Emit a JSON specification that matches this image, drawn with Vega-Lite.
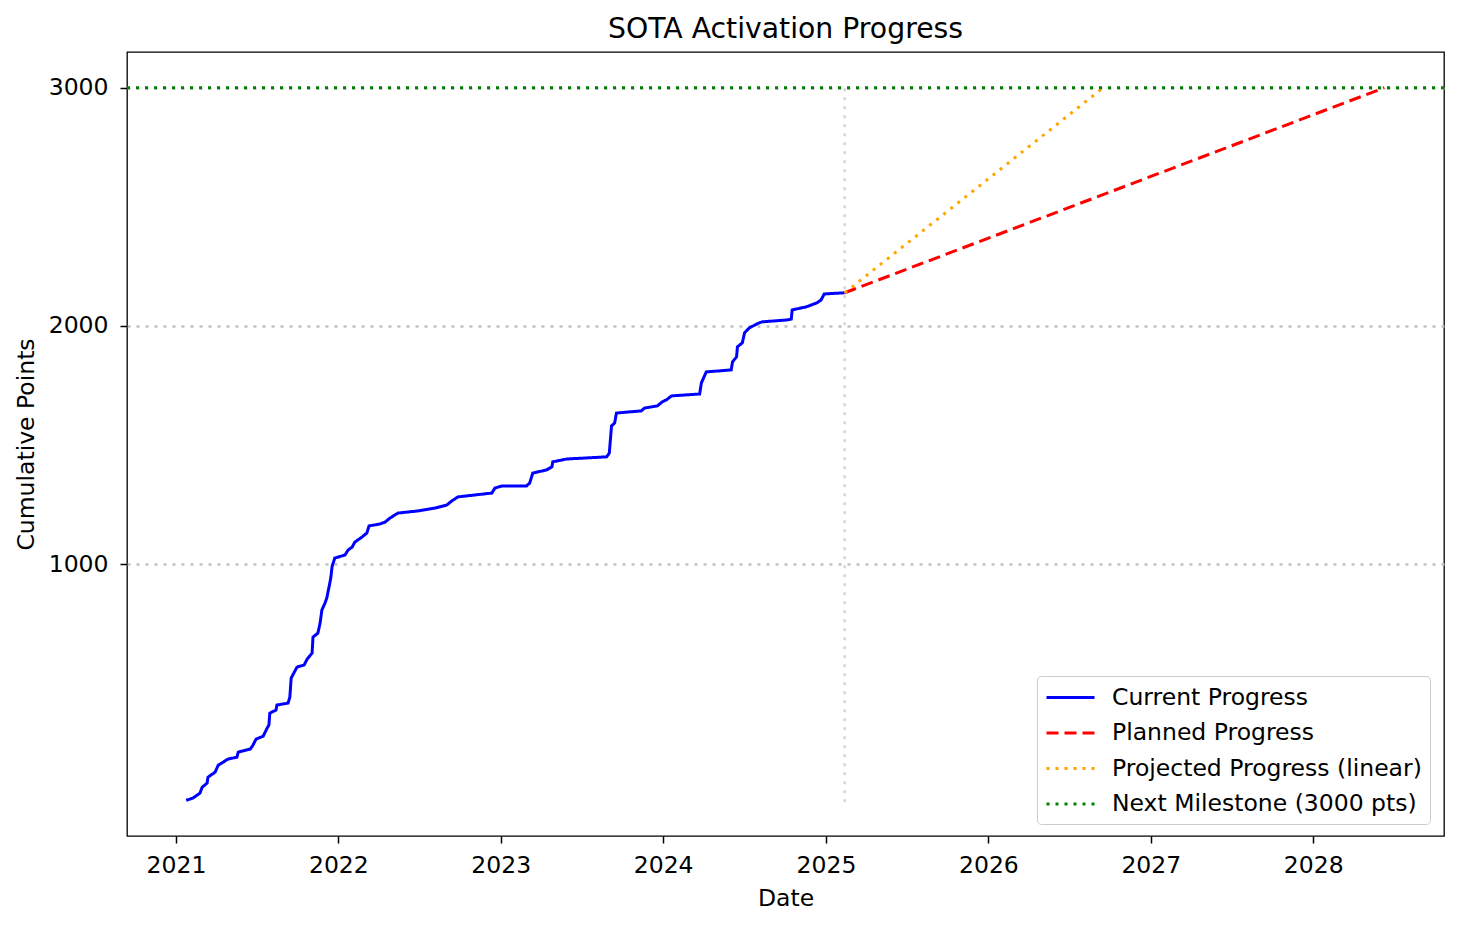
{
  "$schema": "https://vega.github.io/schema/vega-lite/v6.json",
  "width": 1317,
  "height": 784,
  "autosize": {"type": "none"},
  "padding": {"left": 127, "top": 52, "right": 16, "bottom": 92},
  "background": "white",
  "title": {"text": "SOTA Activation Progress", "fontSize": 28.3, "font": "DejaVu Sans", "fontWeight": "normal", "color": "black", "offset": 8},
  "datasets": {
    "lines": [
      {"date": "2021-01-24", "value": 8, "series": "Current Progress"},
      {"date": "2021-02-08", "value": 17, "series": "Current Progress"},
      {"date": "2021-02-24", "value": 38, "series": "Current Progress"},
      {"date": "2021-03-01", "value": 63, "series": "Current Progress"},
      {"date": "2021-03-12", "value": 80, "series": "Current Progress"},
      {"date": "2021-03-14", "value": 105, "series": "Current Progress"},
      {"date": "2021-03-30", "value": 126, "series": "Current Progress"},
      {"date": "2021-04-06", "value": 155, "series": "Current Progress"},
      {"date": "2021-04-28", "value": 181, "series": "Current Progress"},
      {"date": "2021-05-18", "value": 189, "series": "Current Progress"},
      {"date": "2021-05-21", "value": 210, "series": "Current Progress"},
      {"date": "2021-06-17", "value": 223, "series": "Current Progress"},
      {"date": "2021-06-23", "value": 239, "series": "Current Progress"},
      {"date": "2021-06-30", "value": 265, "series": "Current Progress"},
      {"date": "2021-07-16", "value": 277, "series": "Current Progress"},
      {"date": "2021-07-25", "value": 311, "series": "Current Progress"},
      {"date": "2021-07-29", "value": 324, "series": "Current Progress"},
      {"date": "2021-07-31", "value": 374, "series": "Current Progress"},
      {"date": "2021-08-14", "value": 387, "series": "Current Progress"},
      {"date": "2021-08-16", "value": 408, "series": "Current Progress"},
      {"date": "2021-09-10", "value": 416, "series": "Current Progress"},
      {"date": "2021-09-14", "value": 441, "series": "Current Progress"},
      {"date": "2021-09-17", "value": 521, "series": "Current Progress"},
      {"date": "2021-09-30", "value": 567, "series": "Current Progress"},
      {"date": "2021-10-16", "value": 576, "series": "Current Progress"},
      {"date": "2021-10-23", "value": 601, "series": "Current Progress"},
      {"date": "2021-11-03", "value": 626, "series": "Current Progress"},
      {"date": "2021-11-05", "value": 693, "series": "Current Progress"},
      {"date": "2021-11-16", "value": 710, "series": "Current Progress"},
      {"date": "2021-11-21", "value": 752, "series": "Current Progress"},
      {"date": "2021-11-25", "value": 807, "series": "Current Progress"},
      {"date": "2021-12-02", "value": 836, "series": "Current Progress"},
      {"date": "2021-12-06", "value": 857, "series": "Current Progress"},
      {"date": "2021-12-11", "value": 903, "series": "Current Progress"},
      {"date": "2021-12-15", "value": 941, "series": "Current Progress"},
      {"date": "2021-12-18", "value": 990, "series": "Current Progress"},
      {"date": "2021-12-24", "value": 1025, "series": "Current Progress"},
      {"date": "2022-01-16", "value": 1038, "series": "Current Progress"},
      {"date": "2022-01-23", "value": 1059, "series": "Current Progress"},
      {"date": "2022-02-01", "value": 1071, "series": "Current Progress"},
      {"date": "2022-02-07", "value": 1092, "series": "Current Progress"},
      {"date": "2022-02-23", "value": 1113, "series": "Current Progress"},
      {"date": "2022-03-06", "value": 1130, "series": "Current Progress"},
      {"date": "2022-03-11", "value": 1160, "series": "Current Progress"},
      {"date": "2022-04-04", "value": 1168, "series": "Current Progress"},
      {"date": "2022-04-16", "value": 1176, "series": "Current Progress"},
      {"date": "2022-04-27", "value": 1193, "series": "Current Progress"},
      {"date": "2022-05-15", "value": 1214, "series": "Current Progress"},
      {"date": "2022-06-29", "value": 1223, "series": "Current Progress"},
      {"date": "2022-08-06", "value": 1235, "series": "Current Progress"},
      {"date": "2022-09-02", "value": 1248, "series": "Current Progress"},
      {"date": "2022-09-13", "value": 1265, "series": "Current Progress"},
      {"date": "2022-09-27", "value": 1282, "series": "Current Progress"},
      {"date": "2022-11-04", "value": 1290, "series": "Current Progress"},
      {"date": "2022-12-12", "value": 1298, "series": "Current Progress"},
      {"date": "2022-12-19", "value": 1319, "series": "Current Progress"},
      {"date": "2023-01-04", "value": 1328, "series": "Current Progress"},
      {"date": "2023-02-28", "value": 1328, "series": "Current Progress"},
      {"date": "2023-03-07", "value": 1340, "series": "Current Progress"},
      {"date": "2023-03-14", "value": 1382, "series": "Current Progress"},
      {"date": "2023-04-14", "value": 1395, "series": "Current Progress"},
      {"date": "2023-04-26", "value": 1408, "series": "Current Progress"},
      {"date": "2023-04-28", "value": 1429, "series": "Current Progress"},
      {"date": "2023-05-29", "value": 1441, "series": "Current Progress"},
      {"date": "2023-08-27", "value": 1450, "series": "Current Progress"},
      {"date": "2023-09-02", "value": 1466, "series": "Current Progress"},
      {"date": "2023-09-07", "value": 1580, "series": "Current Progress"},
      {"date": "2023-09-14", "value": 1592, "series": "Current Progress"},
      {"date": "2023-09-18", "value": 1634, "series": "Current Progress"},
      {"date": "2023-11-13", "value": 1643, "series": "Current Progress"},
      {"date": "2023-11-20", "value": 1655, "series": "Current Progress"},
      {"date": "2023-12-19", "value": 1664, "series": "Current Progress"},
      {"date": "2023-12-30", "value": 1681, "series": "Current Progress"},
      {"date": "2024-01-08", "value": 1689, "series": "Current Progress"},
      {"date": "2024-01-20", "value": 1706, "series": "Current Progress"},
      {"date": "2024-03-23", "value": 1714, "series": "Current Progress"},
      {"date": "2024-03-27", "value": 1761, "series": "Current Progress"},
      {"date": "2024-04-07", "value": 1807, "series": "Current Progress"},
      {"date": "2024-05-06", "value": 1811, "series": "Current Progress"},
      {"date": "2024-06-02", "value": 1815, "series": "Current Progress"},
      {"date": "2024-06-05", "value": 1849, "series": "Current Progress"},
      {"date": "2024-06-14", "value": 1870, "series": "Current Progress"},
      {"date": "2024-06-16", "value": 1912, "series": "Current Progress"},
      {"date": "2024-06-27", "value": 1929, "series": "Current Progress"},
      {"date": "2024-07-02", "value": 1971, "series": "Current Progress"},
      {"date": "2024-07-13", "value": 1992, "series": "Current Progress"},
      {"date": "2024-08-04", "value": 2013, "series": "Current Progress"},
      {"date": "2024-08-11", "value": 2017, "series": "Current Progress"},
      {"date": "2024-10-06", "value": 2025, "series": "Current Progress"},
      {"date": "2024-10-15", "value": 2029, "series": "Current Progress"},
      {"date": "2024-10-17", "value": 2067, "series": "Current Progress"},
      {"date": "2024-11-18", "value": 2080, "series": "Current Progress"},
      {"date": "2024-12-12", "value": 2097, "series": "Current Progress"},
      {"date": "2024-12-21", "value": 2109, "series": "Current Progress"},
      {"date": "2024-12-28", "value": 2134, "series": "Current Progress"},
      {"date": "2025-02-12", "value": 2139, "series": "Current Progress"},
      {"date": "2025-02-12", "value": 2139, "series": "Planned Progress"},
      {"date": "2028-06-09", "value": 3000, "series": "Planned Progress"},
      {"date": "2025-02-12", "value": 2139, "series": "Projected Progress (linear)"},
      {"date": "2026-09-16", "value": 3000, "series": "Projected Progress (linear)"}
    ],
    "milestone": [
      {"value": 3000, "series": "Next Milestone (3000 pts)"}
    ],
    "today": [
      {"date": "2025-02-12", "value": 0, "value2": 3000}
    ]
  },
  "encoding": {
    "x": {
      "field": "date", "type": "temporal", "title": "Date",
      "scale": {"type": "utc", "domain": [{"year": 2020, "month": 9, "date": 13, "utc": true}, {"year": 2028, "month": 10, "date": 21, "utc": true}]},
      "axis": {"format": "%Y", "formatType": "utc", "tickCount": {"interval": "year", "step": 1}, "grid": false, "labelPadding": 10, "titlePadding": 10}
    },
    "y": {
      "field": "value", "type": "quantitative", "title": "Cumulative Points",
      "scale": {"domain": [-142, 3150], "nice": false, "zero": false},
      "axis": {"values": [1000, 2000, 3000], "format": "d", "grid": true, "gridDash": [3, 6], "gridColor": "#c0c0c0", "gridWidth": 2.5, "labelPadding": 12, "titlePadding": 10}
    }
  },
  "layer": [
    {
      "data": {"name": "today"},
      "mark": {"type": "rule", "color": "#d6d6d6", "strokeWidth": 2.5, "strokeDash": [3, 6]},
      "encoding": {"y2": {"field": "value2"}}
    },
    {
      "data": {"name": "lines"},
      "mark": {"type": "line", "strokeWidth": 3},
      "encoding": {
        "color": {"field": "series", "type": "nominal", "title": null,
          "scale": {"domain": ["Current Progress", "Planned Progress", "Projected Progress (linear)", "Next Milestone (3000 pts)"], "range": ["#0000ff", "#ff0000", "#ffa500", "#008000"]}},
        "strokeDash": {"field": "series", "type": "nominal", "title": null,
          "scale": {"domain": ["Current Progress", "Planned Progress", "Projected Progress (linear)", "Next Milestone (3000 pts)"], "range": [[1, 0], [12, 6], [3, 6], [3, 6]]}}
      }
    },
    {
      "data": {"name": "milestone"},
      "mark": {"type": "rule", "strokeWidth": 3},
      "encoding": {
        "x": null,
        "color": {"field": "series", "type": "nominal", "title": null},
        "strokeDash": {"field": "series", "type": "nominal", "title": null}
      }
    }
  ],
  "config": {
    "font": "DejaVu Sans",
    "view": {"stroke": "black", "strokeWidth": 1.3},
    "axis": {
      "domain": false,
      "tickColor": "black", "tickSize": 7, "tickWidth": 1.5,
      "labelFont": "DejaVu Sans", "labelFontSize": 23.5, "labelColor": "black",
      "titleFont": "DejaVu Sans", "titleFontSize": 23.5, "titleFontWeight": "normal", "titleColor": "black"
    },
    "legend": {
      "orient": "none", "legendX": 910, "legendY": 624,
      "symbolType": "M-1,0H3", "symbolSize": 576, "symbolStrokeWidth": 3,
      "labelFont": "DejaVu Sans", "labelFontSize": 23.5, "labelColor": "black", "labelOffset": 40, "labelLimit": 0,
      "rowPadding": 10.5, "padding": 8,
      "fillColor": "white", "strokeColor": "#cccccc", "cornerRadius": 4
    }
  }
}
